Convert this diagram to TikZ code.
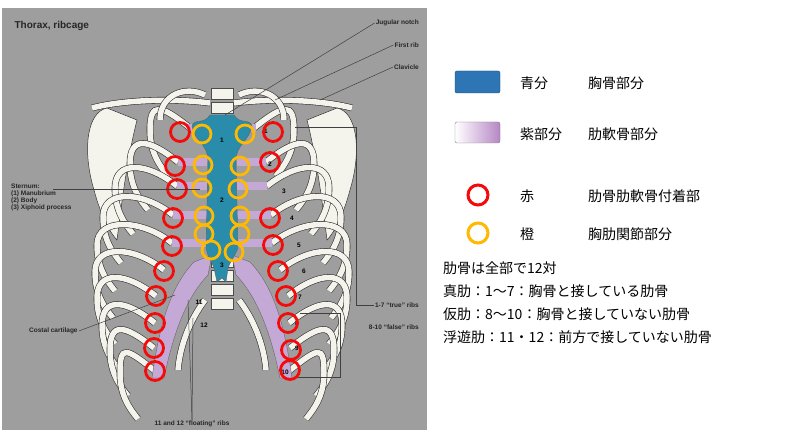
\documentclass[tikz,border=0pt]{standalone}
\usepackage{fontspec}
\setmainfont{Liberation Sans}
\newfontfamily\jp{Noto Sans CJK JP}
\usetikzlibrary{shadings}
\definecolor{panel}{RGB}{158,158,158}
\definecolor{teal}{RGB}{40,140,170}
\definecolor{lav}{RGB}{196,168,214}
\definecolor{bone}{RGB}{245,244,236}
\definecolor{ringred}{RGB}{245,10,10}
\definecolor{ringor}{RGB}{255,185,0}
\definecolor{legblue}{RGB}{46,117,182}
\begin{document}
\begin{tikzpicture}[x=1pt,y=-1pt,
  rib/.style={draw=black!80,double=bone,double distance=5.5pt,line width=0.6pt},
  redring/.style={draw=ringred,line width=2.8pt},
  orring/.style={draw=ringor,line width=2.8pt},
  lbl/.style={font=\bfseries\fontsize{6.5}{7}\selectfont,text=black!85,inner sep=1pt},
  lead/.style={draw=black!75,line width=0.5pt},
  jtxt/.style={font=\jp\fontsize{14}{16}\selectfont,anchor=west,inner sep=0pt},
  num/.style={font=\bfseries\fontsize{6.5}{7}\selectfont,inner sep=0pt}]
\useasboundingbox (0,0) rectangle (800,435);
\fill[white] (0,0) rectangle (800,435);
\fill[panel] (2,8) rectangle (427,430);
\node[anchor=west,font=\bfseries\fontsize{10}{12}\selectfont,text=black!85] (title) at (11,26) {Thorax, ribcage};
% scapulae
\foreach \s in {1,-1}{
\begin{scope}[xshift=222pt,xscale=\s]
\draw[fill=bone,draw=black!80,line width=0.5pt] (-115,108) .. controls (-135,112) and (-140,150) .. (-128,190) .. controls (-120,220) and (-110,235) .. (-105,240) .. controls (-100,200) and (-95,160) .. (-85,120) -- cycle;
\draw[rib] (-12,103) .. controls (-50,98) and (-100,100) .. (-130,108);
\end{scope}}
% spine
\foreach \v in {88,102,...,300}{\draw[fill=bone,draw=black!70,line width=0.4pt] (211,\v) rectangle (233,\v+11);}
% ribs
\foreach \x/\y/\o in {190/128/150,178/162/130,177/186/115,173/215/103,172/243/97,164/270/95,156/296/97,155/323/102,154/348/110,155/371/120}{
  \draw[rib] (\x,\y) .. controls (\x-30,\y-24) and (\o,\y-26) .. (\o,\y+2) .. controls (\o,\y+25) and (\o+10,\y+38) .. (\o+18,\y+48);
  \draw[rib] (444-\x,\y) .. controls (474-\x,\y-24) and (444-\o,\y-26) .. (444-\o,\y+2) .. controls (444-\o,\y+25) and (434-\o,\y+38) .. (426-\o,\y+48);
}
\draw[rib] (205,95) .. controls (185,85) and (160,95) .. (160,120);
\draw[rib] (239,95) .. controls (259,85) and (284,95) .. (284,120);
% floating ribs
\draw[rib] (205,300) .. controls (190,320) and (180,345) .. (178,370);
\draw[rib] (239,300) .. controls (254,320) and (264,345) .. (266,370);
% cartilage
\foreach \s in {1,-1}{
\begin{scope}[xshift=222pt,xscale=\s]
\fill[lav,draw=black!60,line width=0.4pt] (-10,255) -- (-28,262) .. controls (-50,285) and (-62,320) .. (-70,378) -- (-58,378) .. controls (-50,340) and (-38,300) .. (-14,275) -- cycle;
\foreach \yy/\xx in {128/-34,162/-44,186/-45,215/-49,243/-50}{\fill[lav] (-15,\yy-4) rectangle (\xx,\yy+4);}
\end{scope}}
% sternum
\path[fill=teal,draw=black!60,line width=0.4pt] (210,115) -- (234,115) .. controls (240,125) and (250,118) .. (252,126) .. controls (250,140) and (236,145) .. (236,160) -- (238,248) .. controls (234,258) and (230,262) .. (228,268) -- (226,282) -- (222,278) -- (217,282) -- (214,268) .. controls (212,262) and (208,258) .. (206,248) -- (208,160) .. controls (208,145) and (194,140) .. (192,126) .. controls (194,118) and (204,125) .. (210,115) -- cycle;
\node[num] (s1) at (222,140) {1};
\node[num] (s2) at (222,200) {2};
\node[num] (s3) at (222,265) {3};
% rib numbers
\foreach \n/\x/\y in {1/266/131,2/270/164,3/284/191,4/292/218,5/299/245,6/304/271,7/300/297,8/297/323,9/297/348,10/285/372}{\node[num] (r\n) at (\x,\y) {\n};}
\node[num] (r11) at (199,302) {11};
\node[num] (r12) at (204,325) {12};
% rings
\foreach \x/\y in {180/132,175/166,177/189,173/218,172/246,164/271,156/296,155/323,154/348,155/371,273/132,270/162,270/218,273/245,278/271,286/296,288/323,291/350,290/370}{\draw[redring] (\x,\y) circle (9.5);}
\foreach \x/\y in {202/134,203/165,202/188,204/216,204/234,211/250,245/134,240/166,238/189,240/216,240/234,234/252}{\draw[orring] (\x,\y) circle (9);}
% labels
\node[lbl,anchor=east] (jn) at (420,23) {Jugular notch};
\node[lbl,anchor=east] (fr) at (420,45) {First rib};
\node[lbl,anchor=east] (cl) at (420,67) {Clavicle};
\coordinate (jnp) at (225,115);
\coordinate (frp) at (275,100);
\coordinate (clp) at (320,100);
\draw[lead] (jn.west) -- (jnp);
\draw[lead] (fr.west) -- (frp);
\draw[lead] (cl.west) -- (clp);
\node[lbl,anchor=north west,align=left] (st) at (10,183) {Sternum:\\(1) Manubrium\\(2) Body\\(3) Xiphoid process};
\coordinate (stp) at (200,189);
\draw[lead] (53,189) -- (stp);
\node[lbl,anchor=west] (cc) at (28,331) {Costal cartilage};
\coordinate (ccp) at (175,295);
\draw[lead] (cc.east) -- (ccp);
\node[lbl,anchor=east] (tr) at (420,305) {1-7 ``true'' ribs};
\draw[lead] (295,127) -- (356,127) -- (356,305) -- (tr.west);
\node[lbl,anchor=east] (fa) at (420,327) {8-10 ``false'' ribs};
\draw[lead] (300,313) -- (340,313) -- (340,377) -- (298,377);
\node[lbl] (fl) at (192,424) {11 and 12 ``floating'' ribs};
\coordinate (flp1) at (188,300);
\coordinate (flp2) at (193,318);
\draw[lead] (fl.north) -- (flp1);
\draw[lead] (fl.north) -- (flp2);
% legend
\draw[fill=legblue,draw=legblue!60!black,rounded corners=2pt] (455,71) rectangle (500,93);
\shade[left color=white,right color=lav!80!violet,draw=black!50,rounded corners=2pt] (455,122) rectangle (500,143);
\draw[redring,line width=3pt] (478,195) circle (10);
\draw[orring,line width=3pt] (478,233) circle (10);
\node[jtxt] (a1) at (520,83) {青分};
\node[jtxt] (b1) at (588,83) {胸骨部分};
\node[jtxt] (a2) at (520,134) {紫部分};
\node[jtxt] (b2) at (588,134) {肋軟骨部分};
\node[jtxt] (a3) at (520,196) {赤};
\node[jtxt] (b3) at (588,196) {肋骨肋軟骨付着部};
\node[jtxt] (a4) at (520,234) {橙};
\node[jtxt] (b4) at (588,234) {胸肋関節部分};
\node[jtxt] (c1) at (443,268) {肋骨は全部で12対};
\node[jtxt] (c2) at (443,291) {真肋：1～7：胸骨と接している肋骨};
\node[jtxt] (c3) at (443,314) {仮肋：8～10：胸骨と接していない肋骨};
\node[jtxt] (c4) at (443,337) {浮遊肋：11・12：前方で接していない肋骨};
\end{tikzpicture}
\end{document}
